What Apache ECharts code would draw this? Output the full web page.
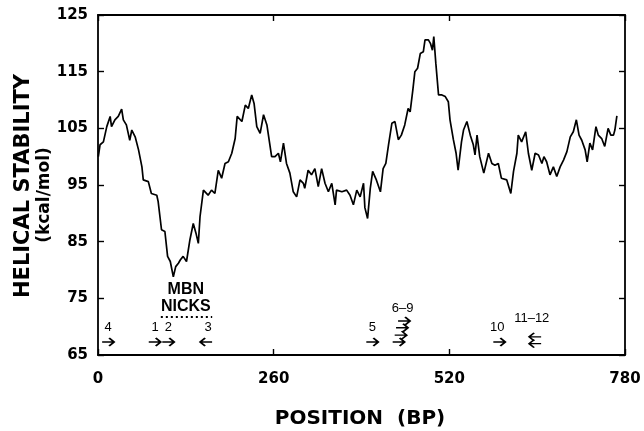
<!DOCTYPE html>
<html>
<head>
<meta charset="utf-8">
<script src="https://cdn.jsdelivr.net/npm/echarts@6/dist/echarts.min.js"></script>
<style>
html,body{margin:0;padding:0;background:#fff;}
#chart{width:644px;height:431px;}
</style>
</head>
<body>
<div id="chart"></div>
<script>
// Helical stability profile (bp position, kcal/mol)
var positions = [0.5,3,8,13,18,20,25,30,35,37.5,42,47,50,55,60,65,67,74.5,79,87,89,94,99,103,107,111.5,115,119,122,126,131,136,141,145,148.5,151,156,158,163,168,173,178,183,188,193,198,203,206,213,218,222.5,227.5,231,235,240,245,250,257,262,267,270,274.5,279,284,289,294,299,304,306,311,316,321,326,331,336,341,346,351,353,361,368,373,378,383,388,393,395,399,403,406.5,412,418,422,426,430,435,439.5,444.5,449,454,459,462,466,469,473,477,481.5,484,489,492,495,497,500,504,509,514,518.5,521,526,530,533,538,541,546,551,555.5,558,561,565,571,578,583,587.5,592.5,597,605,611,615,620,622,627,633,637,642,647,652,657,660,664,669,674,679,684,689,694,699,703.5,708,712,716,721,724,728,732,737,740.5,745.5,750,755,759,763,765,768];
var stability = [100,102.1,102.6,105.3,107.1,105.3,106.5,107.1,108.4,106.5,105.6,102.9,104.7,103.5,101.2,98.2,95.9,95.6,93.5,93.2,92.1,87.1,86.8,82.4,81.5,78.8,80.6,81.2,81.8,82.4,81.5,85.3,88.2,86.5,84.7,89.4,94.1,94.4,93.2,94.1,93.5,97.6,96.2,98.8,99.1,100.6,103.2,107.1,106.2,109.1,108.5,110.9,109.4,105.3,104.1,107.4,105.6,100,100,100.6,99.1,102.4,98.8,97.1,93.8,92.9,95.9,95.3,94.4,97.6,96.8,97.9,94.7,97.9,95.3,93.8,95.3,91.5,94.1,93.8,94.1,93.2,91.5,94.1,92.9,95.3,91,89.1,94.4,97.4,95.9,93.8,97.9,98.8,102.1,105.9,106.2,103,103.8,105.6,108.5,107.9,111.8,115,115.6,118.2,118.5,120.6,120.6,120,118.8,121.2,116.5,110.9,110.9,110.6,109.7,106.5,103,100.6,97.6,102.6,104.7,106.2,103.8,102.1,100.3,103.8,100,97.1,100.6,98.8,98.5,98.8,96.2,95.9,93.5,97.4,100.6,103.8,102.6,104.4,100.6,97.6,100.6,100.3,98.8,100,99.1,96.8,98.2,96.5,98.2,99.4,100.9,103.5,104.4,106.5,103.8,102.9,101.2,99.1,102.4,101.2,105.3,103.8,103.2,101.8,105,103.8,103.8,104.7,107.2];

// Tick labels
var yTicks = [65, 75, 85, 95, 105, 115, 125];
var xTicks = [0, 260, 520, 780];

// Nick site arrows (position, level, direction)
var arrowPos = [15, 84, 104, 160, 406, 453, 450, 448, 445, 594, 647, 647];
var arrowLevel = [67.3, 67.3, 67.3, 67.3, 67.3, 71.0, 69.8, 68.5, 67.3, 67.3, 68.2, 67.0];
var arrowDir = ['R','R','R','L','R','R','R','R','R','R','L','L'];

// Nick site labels
var siteLabelText = ['4', '1', '2', '3', '5', '6\u20139', '10', '11\u201312'];
var siteLabelPos = [15, 84.5, 104, 163, 406, 451, 591, 642];
var siteLabelLevel = [69.8, 69.8, 69.8, 69.8, 69.9, 73.3, 69.9, 71.5];

// MBN nicks annotation
var mbnText = ['MBN', 'NICKS'];
var mbnPos = [130, 130];
var mbnLevel = [76.6, 73.5];
var mbnLineX = [93, 169];
var mbnLineY = 71.7;

var RIGHT = 'path://M0,4L12,4M7,0L12,4L7,8';
var LEFT = 'path://M12,4L0,4M5,0L0,4L5,8';

var chart = echarts.init(document.getElementById('chart'), null, {renderer: 'canvas'});

var lineData = positions.map(function (p, i) { return [p, stability[i]]; });
var arrowData = arrowPos.map(function (p, i) {
  return { value: [p, arrowLevel[i]], symbol: arrowDir[i] === 'R' ? RIGHT : LEFT };
});
var siteData = siteLabelPos.map(function (p, i) { return { value: [p, siteLabelLevel[i]], name: siteLabelText[i] }; });
var mbnData = mbnPos.map(function (p, i) { return { value: [p, mbnLevel[i]], name: mbnText[i] }; });

var FONT = 'DejaVu Sans';
var axisLine = { show: true, onZero: false, lineStyle: { color: '#000', width: 1.8 } };
var axisTick = { show: true, inside: true, length: 6, lineStyle: { color: '#000', width: 1.4 } };

chart.setOption({
  animation: false,
  backgroundColor: '#fff',
  grid: { left: 98, right: 19, top: 15, bottom: 76, containLabel: false },
  xAxis: [
    { type: 'value', min: 0, max: 780, interval: 260, position: 'bottom',
      axisLine: axisLine, axisTick: axisTick, splitLine: { show: false },
      axisLabel: { margin: 17, color: '#000', fontFamily: FONT, fontWeight: 'bold', fontSize: 15,
        formatter: function (v) { return xTicks.indexOf(v) >= 0 ? String(v) : ''; } } },
    { type: 'value', min: 0, max: 780, interval: 260, position: 'top',
      axisLine: axisLine, axisTick: axisTick, splitLine: { show: false }, axisLabel: { show: false } }
  ],
  yAxis: [
    { type: 'value', min: 65, max: 125, interval: 10, position: 'left',
      axisLine: axisLine, axisTick: axisTick, splitLine: { show: false },
      axisLabel: { margin: 10, color: '#000', fontFamily: FONT, fontWeight: 'bold', fontSize: 15,
        formatter: function (v) { return yTicks.indexOf(v) >= 0 ? String(v) : ''; } } },
    { type: 'value', min: 65, max: 125, interval: 10, position: 'right',
      axisLine: axisLine, axisTick: axisTick, splitLine: { show: false }, axisLabel: { show: false } }
  ],
  graphic: [
    { type: 'text', x: 360, y: 419,
      style: { text: 'POSITION  (BP)', fill: '#000', font: 'bold 20px "DejaVu Sans"', align: 'center', verticalAlign: 'middle' } },
    { type: 'text', x: 24, y: 186, rotation: Math.PI / 2,
      style: { text: 'HELICAL STABILITY', fill: '#000', font: 'bold 21px "DejaVu Sans"', align: 'center', verticalAlign: 'middle' } },
    { type: 'text', x: 45, y: 195, rotation: Math.PI / 2,
      style: { text: '(kcal/mol)', fill: '#000', font: 'bold 17px "DejaVu Sans"', align: 'center', verticalAlign: 'middle' } }
  ],
  series: [
    { type: 'line', data: lineData, showSymbol: false, symbol: 'none',
      lineStyle: { color: '#000', width: 1.7 }, z: 3 },
    { type: 'scatter', data: arrowData, symbolSize: [12, 8],
      itemStyle: { color: 'transparent', borderColor: '#000', borderWidth: 1.7, opacity: 1 }, z: 4 },
    { type: 'scatter', data: siteData, symbolSize: 0, itemStyle: { opacity: 1 },
      label: { show: true, position: 'inside', formatter: '{b}', color: '#000', fontFamily: 'Liberation Sans', fontSize: 13 } },
    { type: 'scatter', data: mbnData, symbolSize: 0, itemStyle: { opacity: 1 },
      label: { show: true, position: 'inside', formatter: '{b}', color: '#000', fontFamily: 'Liberation Sans', fontWeight: 'bold', fontSize: 16 } },
    { type: 'line', data: [[mbnLineX[0], mbnLineY], [mbnLineX[1], mbnLineY]], symbol: 'none',
      lineStyle: { color: '#000', width: 2, type: [2, 3] } }
  ]
});
</script>
</body>
</html>
